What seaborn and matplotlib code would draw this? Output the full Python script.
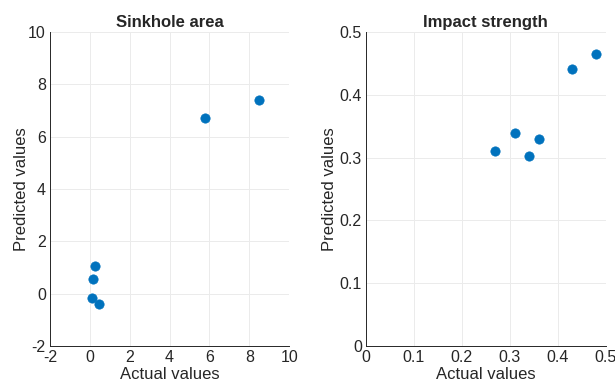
import matplotlib
matplotlib.use("Agg")
import matplotlib.pyplot as plt
import seaborn as sns
import pandas as pd

sink_actual = [0.25, 0.15, 0.10, 0.45, 5.75, 8.5]
sink_pred = [1.07, 0.58, -0.15, -0.38, 6.70, 7.40]
imp_actual = [0.27, 0.31, 0.34, 0.36, 0.43, 0.48]
imp_pred = [0.310, 0.340, 0.302, 0.329, 0.442, 0.465]

titles = ["Sinkhole area", "Impact strength"]
xlabel = "Actual values"
ylabel = "Predicted values"

sns.set_style("white")
plt.rcParams['font.family'] = ['Liberation Sans', 'DejaVu Sans']
plt.rcParams['axes.unicode_minus'] = False

fig = plt.figure(figsize=(6.15, 3.89), dpi=100)
ax1 = fig.add_axes([0.0813, 0.1105, 0.389, 0.807])
ax2 = fig.add_axes([0.595, 0.1105, 0.390, 0.807])

color = "#0072BD"
df1 = pd.DataFrame({"x": sink_actual, "y": sink_pred})
df2 = pd.DataFrame({"x": imp_actual, "y": imp_pred})
sns.scatterplot(data=df1, x="x", y="y", ax=ax1, color=color, s=45, edgecolor=color, linewidth=0.5)
sns.scatterplot(data=df2, x="x", y="y", ax=ax2, color=color, s=45, edgecolor=color, linewidth=0.5)

ax1.set_xlim(-2, 10); ax1.set_ylim(-2, 10)
ax1.set_xticks(range(-2, 11, 2)); ax1.set_yticks(range(-2, 11, 2))
ax2.set_xlim(0, 0.5); ax2.set_ylim(0, 0.5)
ax2.set_xticks([0, 0.1, 0.2, 0.3, 0.4, 0.5]); ax2.set_yticks([0, 0.1, 0.2, 0.3, 0.4, 0.5])
ax2.set_xticklabels(["0", "0.1", "0.2", "0.3", "0.4", "0.5"])
ax2.set_yticklabels(["0", "0.1", "0.2", "0.3", "0.4", "0.5"])

for ax, t, lp in zip([ax1, ax2], titles, [-1, 1.5]):
    ax.set_title(t, fontsize=12, fontweight="bold", pad=4)
    ax.set_xlabel(xlabel, fontsize=12, color="#262626", labelpad=1)
    ax.set_ylabel(ylabel, fontsize=12, color="#262626", labelpad=lp)
    ax.grid(True, color="#ebebeb", linewidth=0.7)
    ax.set_axisbelow(True)
    for s in ["top", "right"]:
        ax.spines[s].set_visible(False)
    for s in ["left", "bottom"]:
        ax.spines[s].set_color("#262626")
        ax.spines[s].set_linewidth(0.7)
    ax.tick_params(axis="both", labelsize=11.5, colors="#262626", length=3, direction="in", pad=3)

fig.savefig("out.png", dpi=100)
